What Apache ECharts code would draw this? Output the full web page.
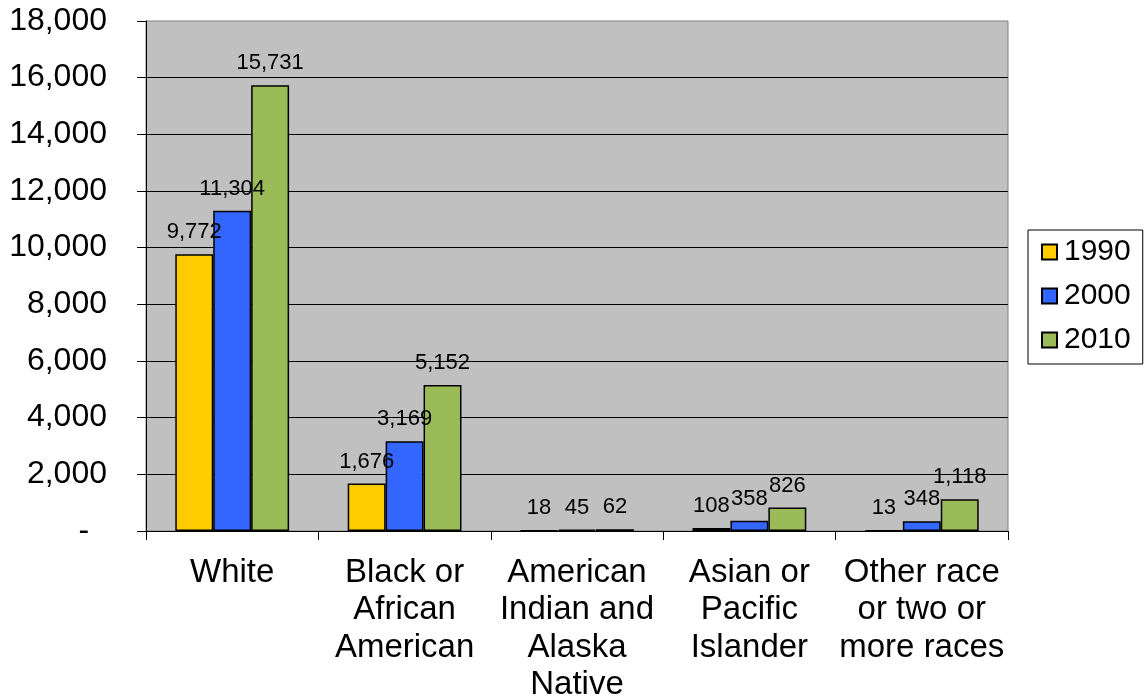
<!DOCTYPE html>
<html>
<head>
<meta charset="utf-8">
<script src="https://cdn.jsdelivr.net/npm/echarts@6/dist/echarts.min.js"></script>
<style>
  html, body { margin: 0; padding: 0; background: #ffffff; }
  #chart { width: 1144px; height: 698px; }
</style>
</head>
<body>
<div id="chart"></div>
<script>
// Population by race, three census years
const categories = [
  'White',
  'Black or\nAfrican\nAmerican',
  'American\nIndian and\nAlaska\nNative',
  'Asian or\nPacific\nIslander',
  'Other race\nor two or\nmore races'
];
const years = ['1990', '2000', '2010'];
const values1990 = [9772, 1676, 18, 108, 13];
const values2000 = [11304, 3169, 45, 358, 348];
const values2010 = [15731, 5152, 62, 826, 1118];
const yTicks = { min: 0, max: 18000, interval: 2000 };

const colors = ['#FFCC00', '#3366FF', '#9BBB59'];
const seriesValues = [values1990, values2000, values2010];

// accounting-style number: zero shows as a dash
const fmt = v => v === 0 ? '-' : Number(v).toLocaleString('en-US');
const font = 'Liberation Sans, Arial, sans-serif';

const chart = echarts.init(document.getElementById('chart'), null, { renderer: 'canvas' });

chart.setOption({
  animation: false,
  textStyle: { fontFamily: font, color: '#000' },
  grid: {
    left: 146, right: 136, top: 21, bottom: 167,
    containLabel: false,
    outerBoundsMode: 'none',
    show: true,
    backgroundColor: '#c0c0c0',
    borderColor: '#808080',
    borderWidth: 1
  },
  legend: {
    data: years,
    orient: 'vertical',
    left: 1028,
    top: 230,
    width: 114,
    padding: [7, 12, 9, 13],
    itemGap: 14,
    itemWidth: 15,
    itemHeight: 15,
    icon: 'rect',
    backgroundColor: '#ffffff',
    borderColor: '#000000',
    borderWidth: 1,
    borderRadius: 0,
    textStyle: { fontFamily: font, fontSize: 30, color: '#000', lineHeight: 30, padding: [0, 0, 0, 2] }
  },
  xAxis: {
    type: 'category',
    data: categories,
    axisLine: { show: true, lineStyle: { color: '#000', width: 1 } },
    axisTick: { show: true, alignWithLabel: false, length: 9, lineStyle: { color: '#000' } },
    axisLabel: {
      interval: 0,
      margin: 23,
      fontFamily: font,
      fontSize: 33,
      lineHeight: 37.5,
      color: '#000'
    }
  },
  yAxis: {
    type: 'value',
    min: yTicks.min,
    max: yTicks.max,
    interval: yTicks.interval,
    axisLine: { show: true, lineStyle: { color: '#000', width: 1 } },
    axisTick: { show: true, length: 9, lineStyle: { color: '#000' } },
    splitLine: { show: true, showMaxLine: false, lineStyle: { color: '#000', width: 1 } },
    axisLabel: {
      margin: 39,
      fontFamily: font,
      fontSize: 32,
      color: '#000',
      formatter: v => v === 0 ? '-  ' : fmt(v)
    }
  },
  series: years.map((y, i) => ({
    name: y,
    type: 'bar',
    data: seriesValues[i],
    barGap: '0%',
    barCategoryGap: '34%',
    itemStyle: { color: colors[i], borderColor: '#000', borderWidth: 1.5 },
    label: {
      show: true,
      position: 'top',
      distance: 11,
      fontFamily: font,
      fontSize: 22,
      color: '#000',
      formatter: p => fmt(p.value)
    }
  }))
});
</script>
</body>
</html>
